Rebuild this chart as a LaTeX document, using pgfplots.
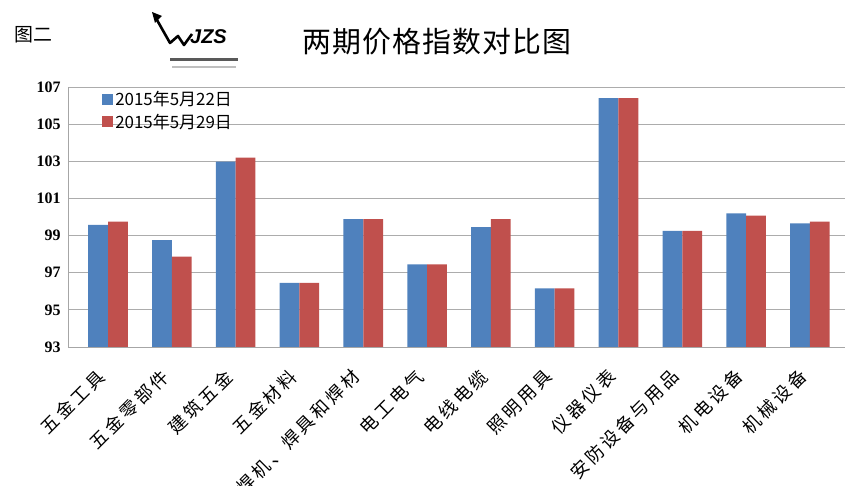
\documentclass[border=0pt]{standalone}
\usepackage{pgfplots}
\pgfplotsset{compat=1.18}
\usepackage{fontspec}
\setmainfont{Liberation Serif}
\setsansfont{Liberation Sans}
\newfontfamily\cjk{Noto Sans CJK SC}
\newfontfamily\cjkwide{Noto Sans CJK SC}[LetterSpace=18]
\definecolor{xlblue}{RGB}{79,129,189}
\definecolor{xlred}{RGB}{192,80,77}

\begin{document}
\begin{tikzpicture}[x=1bp,y=1bp]
\path[use as bounding box] (0,0) rectangle (850,486);
% header
\node[anchor=west,font=\cjk\fontsize{19}{22}\selectfont] at (11,451) {图二};
\node[font=\cjk\fontsize{29}{32}\selectfont\addfontfeature{LetterSpace=4}] at (437,444) {两期价格指数对比图};
% logo
\draw[line width=2.6bp,line join=round] (157,466) -- (170,443) -- (178,450) -- (184,441) -- (192,452);
\fill (152,474) -- (162,470) -- (155,463) -- cycle;
\node[anchor=west,font=\sffamily\bfseries\itshape\fontsize{20}{22}\selectfont,inner sep=0pt] at (190,449) {JZS};
\fill[gray!70!black] (170,428) rectangle (238,425);
\fill[gray!50] (172,420) rectangle (236,418);

\begin{axis}[
    at={(68bp,139bp)}, anchor=south west,
    scale only axis, width=777bp, height=260bp,
    ymin=93, ymax=107,
    ytick={93,95,...,107},
    xmin=-0.627, xmax=11.55,
    xtick={0,...,11},
    xticklabels={五金工具,五金零部件,建筑五金,五金材料,焊机、焊具和焊材,电工电气,电线电缆,照明用具,仪器仪表,安防设备与用品,机电设备,机械设备},
    xticklabel style={xshift=-4bp, yshift=-24bp, rotate=45, anchor=east,
        font=\cjkwide\fontsize{18}{20}\selectfont},
    yticklabel style={xshift=-4bp, font=\bfseries\fontsize{16}{18}\selectfont},
    /pgf/number format/assume math mode=true,
    tick style={draw=none},
    axis x line*=bottom, axis y line*=left,
    axis line style={gray!70, line width=0.8pt, -},
    ymajorgrids, grid style={gray!65, line width=0.8pt},
    legend style={at={(0.04,1.0)}, anchor=north west, draw=none, fill=none,
        font=\cjk\fontsize{17}{20}\selectfont, row sep=3bp},
    legend cell align=left,
    legend image code/.code={\draw[#1,draw=none] (0bp,-5.5bp) rectangle (11bp,5.5bp);},
]
\addplot[ybar, bar width=0.31, bar shift=-0.155, fill=xlblue, draw=none] coordinates {
    (0,99.57) (1,98.76) (2,102.98) (3,96.45) (4,99.88) (5,97.45)
    (6,99.45) (7,96.16) (8,106.4) (9,99.25) (10,100.2) (11,99.66)
};
\addplot[ybar, bar width=0.31, bar shift=0.155, fill=xlred, draw=none] coordinates {
    (0,99.75) (1,97.86) (2,103.2) (3,96.45) (4,99.88) (5,97.45)
    (6,99.88) (7,96.16) (8,106.4) (9,99.25) (10,100.07) (11,99.75)
};
\legend{2015年5月22日, 2015年5月29日}
\end{axis}
\end{tikzpicture}
\end{document}
